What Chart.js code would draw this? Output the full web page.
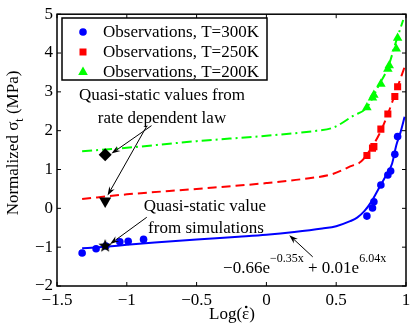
<!DOCTYPE html>
<html>
<head>
<meta charset="utf-8">
<script src="https://cdn.jsdelivr.net/npm/chart.js@4.4.0/dist/chart.umd.min.js"></script>
<style>
  html, body { margin: 0; padding: 0; background: #fff; }
  #wrap { width: 416px; height: 327px; }
</style>
</head>
<body>
<div id="wrap"><canvas id="chart" width="416" height="327"></canvas></div>
<script>
// observations
const obs300X = [-1.32, -1.22, -1.15, -1.05, -0.99, -0.88, 0.72, 0.76, 0.77, 0.82, 0.87, 0.89, 0.92, 0.94];
const obs300Y = [-1.15, -1.04, -0.97, -0.86, -0.85, -0.80, -0.20, 0.01, 0.17, 0.60, 0.86, 0.96, 1.39, 1.85];
const obs250X = [0.72, 0.76, 0.77, 0.82, 0.87, 0.92, 0.94];
const obs250Y = [1.36, 1.55, 1.59, 2.04, 2.43, 2.88, 3.13];
const obs200X = [0.72, 0.76, 0.77, 0.82, 0.87, 0.88, 0.93, 0.94];
const obs200Y = [2.60, 2.85, 2.92, 3.20, 3.59, 3.68, 4.11, 4.39];

// fitted curves
const fit300X = [-1.32, -1.2, -1.0, -0.8, -0.5, -0.2, 0, 0.2, 0.4, 0.5, 0.6, 0.65, 0.7, 0.75, 0.8, 0.85, 0.9, 0.93, 0.96, 0.99];
const fit300Y = [-1.03, -1.0, -0.94, -0.88, -0.80, -0.73, -0.68, -0.61, -0.52, -0.46, -0.33, -0.24, -0.08, 0.16, 0.48, 0.80, 1.15, 1.62, 1.95, 2.36];
const fit250X = [-1.32, -1.0, -0.5, 0, 0.25, 0.48, 0.6, 0.68, 0.74, 0.81, 0.87, 0.93, 0.99];
const fit250Y = [0.24, 0.36, 0.50, 0.65, 0.75, 0.89, 1.08, 1.21, 1.49, 1.92, 2.43, 3.03, 3.64];
const fit200X = [-1.32, -1.0, -0.5, 0, 0.36, 0.48, 0.62, 0.72, 0.81, 0.87, 0.93, 0.98];
const fit200Y = [1.47, 1.56, 1.73, 1.87, 2.0, 2.08, 2.38, 2.60, 3.20, 3.62, 4.31, 4.85];

// quasi-static markers
const qsLawX = [-1.155, -1.155];
const qsLawY = [1.38, 0.19];
const qsSimX = [-1.155];
const qsSimY = [-0.97];

const xTicks = [-1.5, -1, -0.5, 0, 0.5, 1];
const yTicks = [-2, -1, 0, 1, 2, 3, 4, 5];

const legendLabels = ['Observations, T=300K', 'Observations, T=250K', 'Observations, T=200K'];

const FONT = "'Liberation Serif', 'Times New Roman', serif";
const BLUE = '#0000ff', RED = '#ff0000', GREEN = '#00ff00';

function pts(xs, ys) { return xs.map((x, i) => ({ x: x, y: ys[i] })); }
function minus(v) { return v < 0 ? '\u2212' + Math.abs(v) : String(v); }

// filled five point star for the simulation value
function makeStar(r) {
    const c = document.createElement('canvas');
    c.width = c.height = 2 * r + 2;
    const g = c.getContext('2d');
    g.beginPath();
    for (let i = 0; i < 10; i++) {
        const a = -Math.PI / 2 + i * Math.PI / 5;
        const rr = i % 2 ? r * 0.42 : r;
        g.lineTo(r + 1 + rr * Math.cos(a), r + 1 + rr * Math.sin(a));
    }
    g.closePath();
    g.fillStyle = '#000';
    g.fill();
    return c;
}

function arrow(ctx, x1, y1, x2, y2) {
    const ang = Math.atan2(y2 - y1, x2 - x1);
    ctx.beginPath();
    ctx.moveTo(x1, y1);
    ctx.lineTo(x2 - 6 * Math.cos(ang), y2 - 6 * Math.sin(ang));
    ctx.stroke();
    ctx.beginPath();
    ctx.moveTo(x2, y2);
    ctx.lineTo(x2 - 9 * Math.cos(ang) + 3 * Math.sin(ang), y2 - 9 * Math.sin(ang) - 3 * Math.cos(ang));
    ctx.lineTo(x2 - 6 * Math.cos(ang), y2 - 6 * Math.sin(ang));
    ctx.lineTo(x2 - 9 * Math.cos(ang) - 3 * Math.sin(ang), y2 - 9 * Math.sin(ang) + 3 * Math.cos(ang));
    ctx.closePath();
    ctx.fill();
}

// annotations in data units
const notes = [
    { text: 'Quasi-static values from', x: -0.748, y: 2.90 },
    { text: 'rate dependent law', x: -0.748, y: 2.31 },
    { text: 'Quasi-static value', x: -0.44, y: 0.05 },
    { text: 'from simulations', x: -0.433, y: -0.51 }
];
const arrows = [
    [-0.823, 2.13, -1.110, 1.41],
    [-0.855, 2.13, -1.138, 0.33],
    [-0.857, -0.23, -1.120, -0.92],
    [0.332, -1.25, 0.164, -0.69]
];

const decor = {
    id: 'decor',
    afterDraw(chart) {
        const ctx = chart.ctx;
        const a = chart.chartArea;
        const xs = chart.scales.x, ys = chart.scales.y;
        ctx.save();
        ctx.strokeStyle = '#000';
        ctx.fillStyle = '#000';

        // frame + inside ticks on all sides
        ctx.lineWidth = 1.5;
        ctx.strokeRect(a.left, a.top, a.right - a.left, a.bottom - a.top);
        ctx.lineWidth = 1;
        ctx.beginPath();
        xTicks.forEach(v => {
            const px = xs.getPixelForValue(v);
            ctx.moveTo(px, a.bottom); ctx.lineTo(px, a.bottom - 4);
            ctx.moveTo(px, a.top); ctx.lineTo(px, a.top + 4);
        });
        yTicks.forEach(v => {
            const py = ys.getPixelForValue(v);
            ctx.moveTo(a.left, py); ctx.lineTo(a.left + 4, py);
            ctx.moveTo(a.right, py); ctx.lineTo(a.right - 4, py);
        });
        ctx.stroke();

        // legend box
        const lx = 62, ly = 18, lw = 205, lh = 62;
        ctx.fillStyle = '#fff';
        ctx.fillRect(lx, ly, lw, lh);
        ctx.strokeStyle = '#000';
        ctx.lineWidth = 1.5;
        ctx.strokeRect(lx, ly, lw, lh);
        ctx.font = '17px ' + FONT;
        ctx.textBaseline = 'middle';
        ctx.textAlign = 'left';
        const rows = [32, 52, 72];
        rows.forEach((ry, i) => {
            const mx = 83;
            ctx.beginPath();
            if (i === 0) {
                ctx.fillStyle = BLUE;
                ctx.arc(mx, ry, 3.8, 0, Math.PI * 2);
            } else if (i === 1) {
                ctx.fillStyle = RED;
                ctx.rect(mx - 3.5, ry - 3.5, 7, 7);
            } else {
                ctx.fillStyle = GREEN;
                ctx.moveTo(mx, ry - 5.5);
                ctx.lineTo(mx + 4.8, ry + 3);
                ctx.lineTo(mx - 4.8, ry + 3);
                ctx.closePath();
            }
            ctx.fill();
            ctx.fillStyle = '#000';
            ctx.fillText(legendLabels[i], 103, ry + 1);
        });

        // notes and arrows
        ctx.textAlign = 'center';
        notes.forEach(n => {
            ctx.fillText(n.text, xs.getPixelForValue(n.x), ys.getPixelForValue(n.y));
        });
        ctx.lineWidth = 1;
        arrows.forEach(r => {
            arrow(ctx, xs.getPixelForValue(r[0]), ys.getPixelForValue(r[1]),
                xs.getPixelForValue(r[2]), ys.getPixelForValue(r[3]));
        });

        // fit formula
        ctx.textAlign = 'left';
        let fx = xs.getPixelForValue(-0.31);
        const fy = ys.getPixelForValue(-1.55);
        const parts = [['\u22120.66e', 17, 0], ['\u22120.35x', 12, -10], [' + 0.01e', 17, 0], ['6.04x', 12, -10]];
        parts.forEach(p => {
            ctx.font = p[1] + 'px ' + FONT;
            ctx.fillText(p[0], fx, fy + p[2]);
            fx += ctx.measureText(p[0]).width;
        });

        // x title, with the rate dot drawn over epsilon
        ctx.font = '17px ' + FONT;
        ctx.textAlign = 'left';
        const xt = 'Log(\u03b5)';
        const xw = ctx.measureText(xt).width;
        const x0 = 232 - xw / 2;
        ctx.fillText(xt, x0, 315);
        const epsL = x0 + ctx.measureText('Log(').width;
        const epsW = ctx.measureText('\u03b5').width;
        ctx.beginPath();
        ctx.arc(epsL + epsW / 2 + 0.5, 307, 1.3, 0, Math.PI * 2);
        ctx.fill();

        // y title with subscript t
        ctx.translate(14, 143);
        ctx.rotate(-Math.PI / 2);
        const t1 = 'Normalized \u03c3', t2 = 't', t3 = ' (MPa)';
        ctx.font = '17px ' + FONT;
        const w1 = ctx.measureText(t1).width, w3 = ctx.measureText(t3).width;
        ctx.font = '12px ' + FONT;
        const w2 = ctx.measureText(t2).width;
        let sx = -(w1 + w2 + w3) / 2;
        ctx.font = '17px ' + FONT;
        ctx.fillText(t1, sx, 0);
        sx += w1;
        ctx.font = '12px ' + FONT;
        ctx.fillText(t2, sx, 6);
        sx += w2;
        ctx.font = '17px ' + FONT;
        ctx.fillText(t3, sx, 0);
        ctx.restore();
    }
};

const lineBase = { showLine: true, pointRadius: 0, fill: false, cubicInterpolationMode: 'monotone', borderWidth: 2, order: 2 };

new Chart(document.getElementById('chart'), {
    type: 'scatter',
    data: {
        datasets: [
            Object.assign({ data: pts(fit300X, fit300Y), borderColor: BLUE }, lineBase),
            Object.assign({ data: pts(fit250X, fit250Y), borderColor: RED, borderDash: [9, 5] }, lineBase),
            Object.assign({ data: pts(fit200X, fit200Y), borderColor: GREEN, borderDash: [10, 4, 2, 4] }, lineBase),
            { data: pts(obs300X, obs300Y), pointStyle: 'circle', pointRadius: 3.8, backgroundColor: BLUE, borderColor: BLUE, borderWidth: 0, order: 1 },
            { data: pts(obs250X, obs250Y), pointStyle: 'rect', pointRadius: 5, backgroundColor: RED, borderColor: RED, borderWidth: 0, order: 1 },
            { data: pts(obs200X, obs200Y), pointStyle: 'triangle', pointRadius: 5.5, backgroundColor: GREEN, borderColor: GREEN, borderWidth: 0, order: 1 },
            { data: pts([qsLawX[0]], [qsLawY[0]]), pointStyle: 'rectRot', pointRadius: 6.5, backgroundColor: '#000', borderColor: '#000', borderWidth: 0, order: 0 },
            { data: pts([qsLawX[1]], [qsLawY[1]]), pointStyle: 'triangle', rotation: 180, pointRadius: 7, backgroundColor: '#000', borderColor: '#000', borderWidth: 0, order: 0 },
            { data: pts(qsSimX, qsSimY), pointStyle: makeStar(7), backgroundColor: '#000', order: 0 }
        ]
    },
    options: {
        responsive: false,
        animation: false,
        events: [],
        layout: { padding: { top: 13, right: 10, left: 0, bottom: 0 } },
        plugins: { legend: { display: false }, tooltip: { enabled: false } },
        scales: {
            x: {
                type: 'linear', min: -1.5, max: 1,
                afterBuildTicks: s => { s.ticks = xTicks.map(v => ({ value: v })); },
                afterFit: s => { s.height = 41; },
                grid: { display: false, drawTicks: false },
                border: { display: false },
                ticks: { color: '#000', font: { family: FONT, size: 17 }, padding: 4, maxRotation: 0, callback: v => minus(v) }
            },
            y: {
                type: 'linear', min: -2, max: 5,
                afterBuildTicks: s => { s.ticks = yTicks.map(v => ({ value: v })); },
                afterFit: s => { s.width = 57; },
                grid: { display: false, drawTicks: false },
                border: { display: false },
                ticks: { color: '#000', font: { family: FONT, size: 17 }, padding: 4, callback: v => minus(v) }
            }
        }
    },
    plugins: [decor]
});
</script>
</body>
</html>
